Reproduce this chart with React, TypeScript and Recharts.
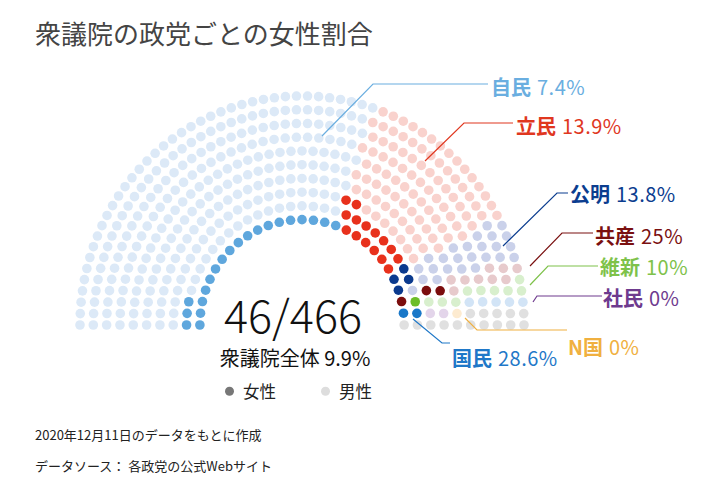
import React from 'react';
import { ScatterChart, Scatter, XAxis, YAxis } from 'recharts';

// seats and women per party (HoR, Dec 2020)
const parties = ['自民', '立民', '公明', '共産', '維新', '国民', '社民', 'N国', '無所属'];
const seats = [282, 108, 29, 12, 10, 7, 2, 1, 15];
const women = [21, 15, 4, 3, 1, 2, 0, 0, 0];
const womenColors = ['#5fa7dd', '#e8311c', '#0b3a8e', '#7b0d0d', '#6cbd28', '#1a78c8', '#6b3a8e', '#f0b040', '#999999'];
const menColors = ['#dce9f7', '#f9d2cd', '#cad1ea', '#e7cacc', '#d8efcd', '#d2e4f6', '#e3d5ea', '#fdebd0', '#e0e0e0'];

// labels on the right, in the order they are drawn
const labelParties = ['自民', '立民', '公明', '共産', '維新', '社民', 'N国', '国民'];
const labelColors = ['#6aaee0', '#e0371f', '#0b3d8f', '#7a1010', '#7ec24a', '#6e3a8e', '#f0b040', '#1f78c8'];

const RINGS = 10;
const INNER = 0.46;
const W = 720;
const H = 494;
const CX = 302;
const CY = 325;
const RX = 222;
const RY = 229;

const FONT = '"Noto Sans CJK JP", "Noto Sans", sans-serif';

type Pt = { x: number; y: number };

function buildSeats() {
  const total = seats.reduce((a, b) => a + b, 0);
  const radii = Array.from({ length: RINGS }, (_, i) => INNER + ((1 - INNER) * i) / (RINGS - 1));
  const rsum = radii.reduce((a, b) => a + b, 0);
  const raw = radii.map((r) => (total * r) / rsum);
  const counts = raw.map(Math.floor);
  const rest = total - counts.reduce((a, b) => a + b, 0);
  const order = raw.map((v, i) => [v - Math.floor(v), i]).sort((a, b) => b[0] - a[0]);
  for (let k = 0; k < rest; k++) counts[order[k][1]]++;

  const all: { ring: number; a: number; x: number; y: number }[] = [];
  radii.forEach((r, ring) => {
    const n = counts[ring];
    for (let k = 0; k < n; k++) {
      const a = Math.PI * (1 - k / (n - 1));
      all.push({ ring, a, x: r * Math.cos(a), y: r * Math.sin(a) });
    }
  });
  all.sort((p, q) => q.a - p.a || p.ring - q.ring);

  let idx = 0;
  return seats.map((n, pi) => {
    const mine = all.slice(idx, idx + n);
    idx += n;
    // women take the inner rings of each party's wedge
    mine.sort((p, q) => p.ring - q.ring || q.a - p.a);
    const w: Pt[] = [];
    const m: Pt[] = [];
    mine.forEach((s, j) => (j < women[pi] ? w : m).push({ x: s.x, y: s.y }));
    return { w, m };
  });
}

const pct = (w: number, n: number) => {
  const v = Math.round((w / n) * 1000) / 10;
  return `${v}%`;
};

// leader lines + label anchor (pixels)
const leaders = [
  { pts: '322,136 373,84 488,84', lx: 491, ly: 87 },
  { pts: '425,161 464,123 513,123', lx: 516, ly: 126 },
  { pts: '503,246 557,193 568,193', lx: 570, ly: 194 },
  { pts: '530,266 562,233 593,233', lx: 595, ly: 236 },
  { pts: '530,285 548,266 598,266', lx: 600, ly: 267 },
  { pts: '533,302 537,296 602,296', lx: 603, ly: 298 },
  { pts: '465,318 477,330 567,330', lx: 568, ly: 347 },
  { pts: '413,319 442,343 450,343', lx: 452, ly: 358 },
];

const dot = (color: string) => (props: any) => (
  <circle cx={props.cx} cy={props.cy} r={4.8} fill={color} />
);

export default function App() {
  const groups = buildSeats();
  const totalSeats = seats.reduce((a, b) => a + b, 0);
  const totalWomen = women.reduce((a, b) => a + b, 0);

  return (
    <div style={{ position: 'absolute', left: 0, top: 0, width: W, height: H, background: '#fff', fontFamily: FONT, overflow: 'hidden' }}>
      <div style={{ position: 'absolute', left: 0, top: 0 }}>
        <ScatterChart width={W} height={H} margin={{ top: 0, right: 0, bottom: 0, left: 0 }}>
          <XAxis type="number" dataKey="x" hide domain={[-CX / RX, (W - CX) / RX]} allowDataOverflow />
          <YAxis type="number" dataKey="y" hide domain={[-(H - CY) / RY, CY / RY]} allowDataOverflow />
          {groups.map((g, i) => (
            <Scatter key={`m-${i}`} name={`${parties[i]}男性`} data={g.m} shape={dot(menColors[i])} isAnimationActive={false} />
          ))}
          {groups.map((g, i) => (
            <Scatter key={`w-${i}`} name={`${parties[i]}女性`} data={g.w} shape={dot(womenColors[i])} isAnimationActive={false} />
          ))}
        </ScatterChart>
      </div>

      <svg width={W} height={H} style={{ position: 'absolute', left: 0, top: 0, pointerEvents: 'none' }}>
        {leaders.map((l, i) => (
          <polyline key={i} points={l.pts} fill="none" stroke={labelColors[i]} strokeWidth={1.2} />
        ))}
      </svg>

      {leaders.map((l, i) => {
        const pi = parties.indexOf(labelParties[i]);
        return (
          <div key={i} style={{ position: 'absolute', left: l.lx, top: l.ly, transform: 'translateY(-50%)', color: labelColors[i], fontSize: 20, lineHeight: 1, whiteSpace: 'nowrap' }}>
            <span style={{ fontWeight: 700 }}>{labelParties[i]}</span>
            <span style={{ marginLeft: 6, letterSpacing: 0.5 }}>{pct(women[pi], seats[pi])}</span>
          </div>
        );
      })}

      <div style={{ position: 'absolute', left: 35, top: 33, transform: 'translateY(-50%)', fontSize: 26, color: '#444', lineHeight: 1, whiteSpace: 'nowrap' }}>
        衆議院の政党ごとの女性割合
      </div>

      <div style={{ position: 'absolute', left: 293, top: 314, transform: 'translate(-50%,-50%)', fontSize: 45, fontWeight: 300, color: '#111', lineHeight: 0.85, whiteSpace: 'nowrap' }}>
        {totalWomen}/{totalSeats}
      </div>
      <div style={{ position: 'absolute', left: 295, top: 358, transform: 'translate(-50%,-50%)', fontSize: 20, color: '#111', lineHeight: 1, whiteSpace: 'nowrap' }}>
        衆議院全体 {pct(totalWomen, totalSeats)}
      </div>

      <div style={{ position: 'absolute', left: 225, top: 391, transform: 'translateY(-50%)', fontSize: 16.5, color: '#222', lineHeight: 1, whiteSpace: 'nowrap', display: 'flex', alignItems: 'center' }}>
        <span style={{ display: 'inline-block', width: 9, height: 9, borderRadius: 5, background: '#777', marginRight: 9 }} />
        <span>女性</span>
        <span style={{ display: 'inline-block', width: 9, height: 9, borderRadius: 5, background: '#ddd', marginLeft: 45, marginRight: 9 }} />
        <span>男性</span>
      </div>

      <div style={{ position: 'absolute', left: 35, top: 434, transform: 'translateY(-50%)', fontSize: 13, color: '#222', lineHeight: 1, whiteSpace: 'nowrap' }}>
        2020年12月11日のデータをもとに作成
      </div>
      <div style={{ position: 'absolute', left: 35, top: 465, transform: 'translateY(-50%)', fontSize: 13, color: '#222', lineHeight: 1, whiteSpace: 'nowrap' }}>
        データソース： 各政党の公式Webサイト
      </div>
    </div>
  );
}
